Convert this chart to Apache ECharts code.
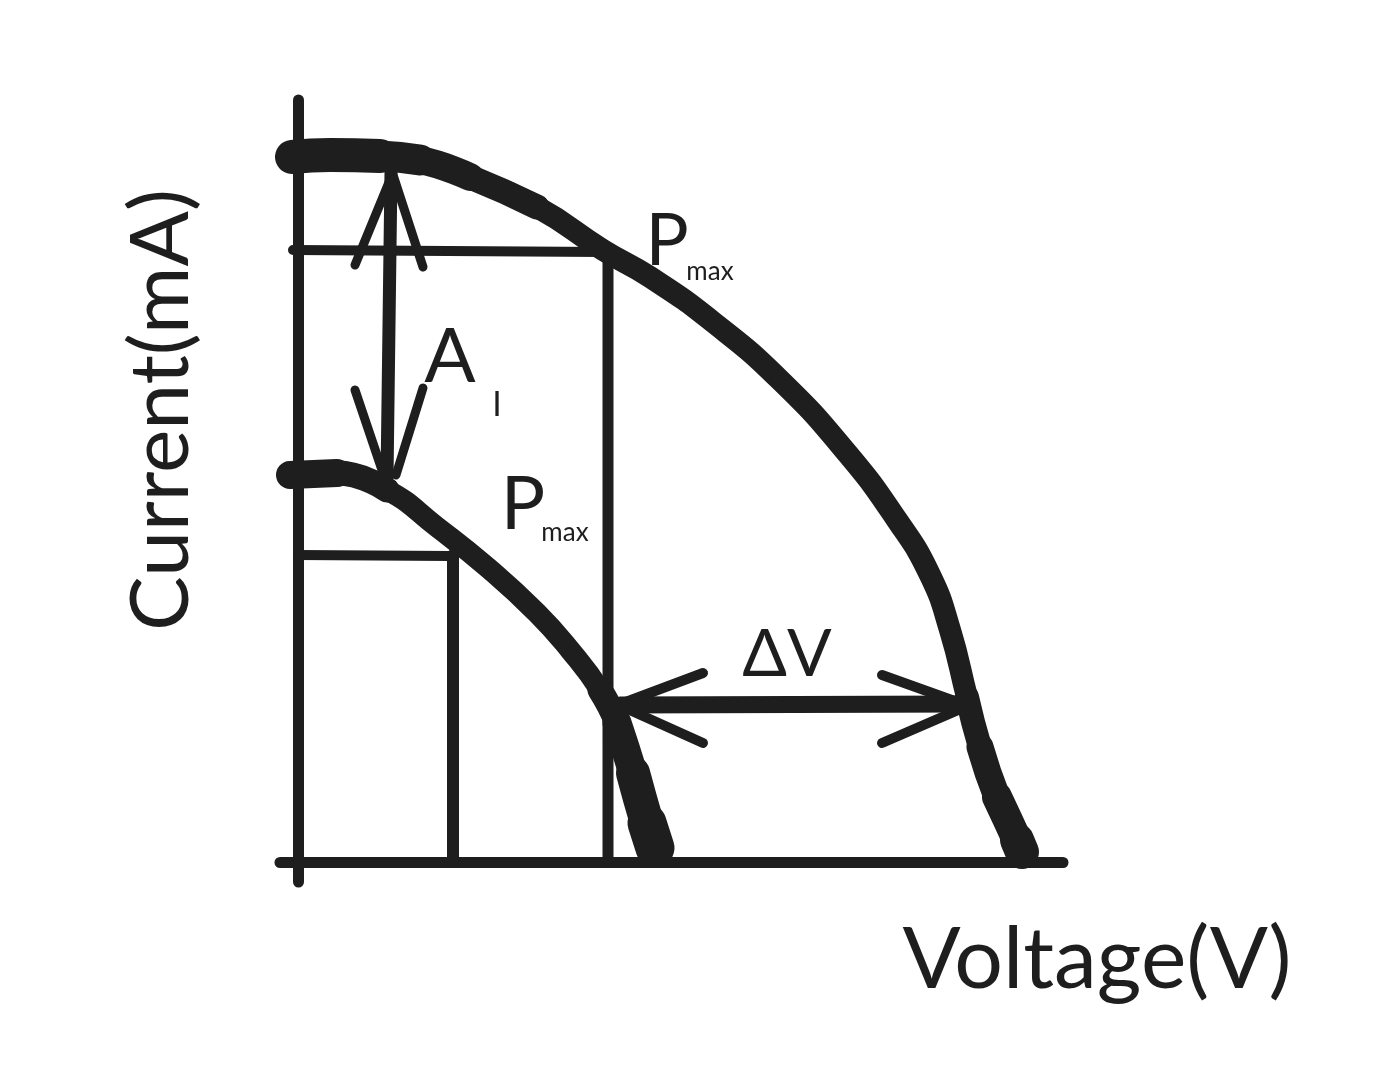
<!DOCTYPE html>
<html>
<head>
<meta charset="utf-8">
<script src="https://cdn.jsdelivr.net/npm/echarts@6/dist/echarts.min.js"></script>
<style>
  html, body { margin: 0; padding: 0; background: #ffffff; }
  #chart { width: 1388px; height: 1086px; }
</style>
</head>
<body>
<div id="chart"></div>
<script>
// ---- Data (voltage, current) in arbitrary sketch units ----
const outerCurve = [
  [-0.6, 70.5], [3.2, 70.7], [8.2, 70.6], [12.2, 70.2], [17.2, 68.5], [23.9, 65.5],
  [30.5, 61.2], [35.2, 58.5], [41.5, 54.0], [48.2, 48.2], [54.9, 40.9], [59.9, 34.2],
  [63.2, 28.7], [65.2, 23.2], [66.9, 16.5], [68.2, 11.5], [69.9, 6.5], [71.9, 2.2], [72.4, 1.0]
];
const innerCurve = [
  [-0.8, 38.7], [3.9, 38.9], [8.9, 37.2], [13.9, 33.5], [18.9, 29.5], [23.9, 24.9],
  [27.2, 21.2], [30.2, 17.2], [31.9, 13.9], [33.5, 8.9], [34.9, 3.9], [35.7, 1.4]
];
// Max power point rectangles
const upperMppH = [[-0.5, 61.2], [30.5, 61.0]];
const upperMppV = [[31.0, 61.2], [31.0, 0]];
const lowerMppH = [[0, 30.7], [15.2, 30.6]];
const lowerMppV = [[15.5, 30.7], [15.5, 0]];
// Delta I arrow
const dIShaft = [[9.3, 69.0], [8.9, 38.4]];
const dIHeads = [
  [[5.7, 59.7], [9.4, 68.7]], [[9.5, 68.7], [12.5, 59.5]],
  [[5.7, 47.2], [8.4, 39.2]], [[12.5, 47.4], [9.8, 38.7]]
];
// Delta V arrow
const dVShaft = [[32.2, 15.7], [67.0, 15.8]];
const dVHeads = [
  [[40.5, 18.9], [32.5, 15.9]], [[32.5, 15.5], [40.5, 11.9]],
  [[58.4, 18.7], [66.5, 15.8]], [[66.5, 15.4], [58.4, 11.9]]
];
// Annotation texts and their anchor points
const noteTexts = ['A', 'I', 'P', 'max', 'P', 'max', 'ΔV'];
const noteAnchors = [[15.2, 50.5], [19.9, 45.7], [22.5, 35.7], [26.7, 32.9], [36.9, 62.0], [41.2, 59.0], [48.9, 20.7]];
const xAxisTitle = 'Voltage(V)';
const yAxisTitle = 'Current(mA)';

// ---- Styles ----
const INK = '#1e1e1e';
const FONT = 'Lato, "Noto Sans", sans-serif';
const noteSizes = [76, 34, 74, 26, 72, 26, 66];

function seg(data, width, smooth, z) {
  return {
    type: 'line', data: data, smooth: smooth || false, symbol: 'none', silent: true,
    z: z || 2, clip: false,
    lineStyle: { color: INK, width: width, cap: 'round', join: 'round', opacity: 1 }
  };
}

const SM = true;
const series = [
  seg(upperMppH, 10), seg(upperMppV, 11), seg(lowerMppH, 10), seg(lowerMppV, 12),
  seg(dIShaft, 13), seg(dVShaft, 17),
  // outer curve with tapered thickness
  seg(outerCurve, 22, SM, 3),
  seg(outerCurve.slice(0, 6), 25, SM, 3),
  seg(outerCurve.slice(0, 5), 28, SM, 3),
  seg(outerCurve.slice(0, 4), 31, SM, 3),
  seg(outerCurve.slice(0, 3), 34, SM, 3),
  seg(outerCurve.slice(14), 24, SM, 3),
  seg(outerCurve.slice(15), 27, SM, 3),
  seg(outerCurve.slice(16), 30, SM, 3),
  seg(outerCurve.slice(17), 34, SM, 3),
  // inner curve with tapered thickness
  seg(innerCurve, 21, SM, 3),
  seg(innerCurve.slice(0, 3), 25, SM, 3),
  seg(innerCurve.slice(0, 2), 28, SM, 3),
  seg(innerCurve.slice(7), 25, SM, 3),
  seg(innerCurve.slice(8), 29, SM, 3),
  seg(innerCurve.slice(9), 34, SM, 3),
  seg(innerCurve.slice(10), 39, SM, 3)
];
dIHeads.forEach(h => series.push(seg(h, 9)));
dVHeads.forEach(h => series.push(seg(h, 10)));
series.push({
  type: 'scatter', symbolSize: 0, silent: true, z: 5,
  itemStyle: { opacity: 1 },
  data: noteTexts.map((t, i) => ({
    name: t, value: noteAnchors[i],
    label: { fontSize: noteSizes[i] }
  })),
  label: {
    show: true, position: 'inside', formatter: '{b}', color: INK, opacity: 1,
    fontFamily: FONT
  }
});

const chart = echarts.init(document.getElementById('chart'), null, { renderer: 'canvas' });
chart.setOption({
  animation: false,
  backgroundColor: '#ffffff',
  grid: { left: 280, top: 100, width: 783, height: 782 },
  xAxis: {
    type: 'value', min: -1.8, max: 76.5,
    axisLine: { onZero: true, lineStyle: { color: INK, width: 11, cap: 'round' } },
    axisTick: { show: false }, axisLabel: { show: false }, splitLine: { show: false }
  },
  yAxis: {
    type: 'value', min: -2, max: 76.2,
    axisLine: { onZero: true, lineStyle: { color: INK, width: 11, cap: 'round' } },
    axisTick: { show: false }, axisLabel: { show: false }, splitLine: { show: false }
  },
  graphic: [
    {
      type: 'text', x: 1097, y: 960,
      style: { text: xAxisTitle, fill: INK, font: '86px ' + FONT, textAlign: 'center', textVerticalAlign: 'middle' }
    },
    {
      type: 'text', x: 162, y: 410, rotation: Math.PI / 2,
      style: { text: yAxisTitle, fill: INK, font: '82px ' + FONT, textAlign: 'center', textVerticalAlign: 'middle' }
    }
  ],
  series: series
});
</script>
</body>
</html>
